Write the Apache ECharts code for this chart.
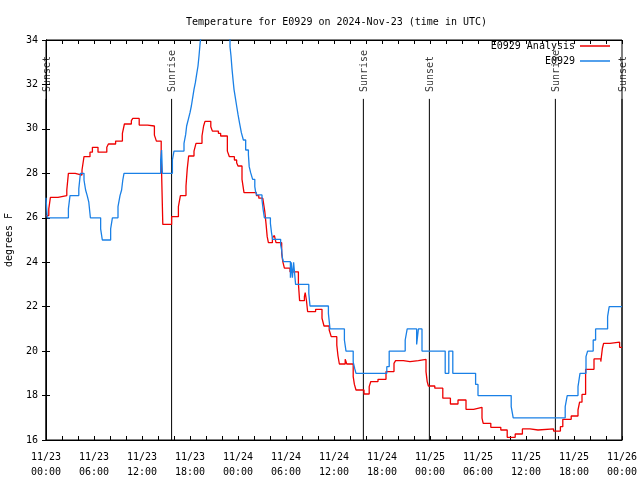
<!DOCTYPE html>
<html>
<head>
<meta charset="utf-8">
<script src="https://cdn.jsdelivr.net/npm/echarts@6/dist/echarts.min.js"></script>
<style>html,body{margin:0;padding:0;background:#fff;}#chart{width:640px;height:480px;}</style>
</head>
<body>
<div id="chart"></div>
<script>
// ---- data (x = hours since 2024-11-23 00:00 UTC) ----
const titleText = 'Temperature for E0929 on 2024-Nov-23 (time in UTC)';
const xTickLabels = ['11/23\n00:00','11/23\n06:00','11/23\n12:00','11/23\n18:00','11/24\n00:00','11/24\n06:00','11/24\n12:00','11/24\n18:00','11/25\n00:00','11/25\n06:00','11/25\n12:00','11/25\n18:00','11/26\n00:00'];
const yTickLabels = ['16','18','20','22','24','26','28','30','32','34'];
const analysisHours = [0,0.35,0.55,1.5,2.6,2.8,3.65,4.5,4.75,5.5,5.8,6.5,7.6,7.8,8.7,9.55,9.8,10.67,10.85,11.65,12.7,13.55,13.8,14.4,14.6,15.7,16.55,16.8,17.5,17.65,17.83,18.5,18.75,19.5,19.7,19.875,20.6,20.8,21.55,21.83,22.67,22.92,23.55,23.83,24.0,24.5,24.75,26.3,26.6,27.1,27.35,27.5,27.65,27.8,28.3,28.55,28.75,29.46,29.6,29.8,30.5,31.55,31.7,32.3,32.4,32.55,32.7,33.7,34.5,34.75,35.4,35.65,36.35,36.5,36.67,37.4,37.6,38.4,38.55,38.75,39.75,40.4,40.6,41.5,42.5,43.5,43.7,44.67,45.5,46.55,47.5,47.65,47.8,48.6,49.6,50.55,51.5,52.5,53.45,54.5,54.65,55.6,56.85,57.65,58.65,59.55,60.5,61.5,63.45,64.3,64.6,65.65,66.5,66.7,67.0,67.45,68.5,69.35,69.55,69.7,70.5,71.7,72];
const analysisTemps = [26.1,26.4,26.92,27.0,27.25,28.0,27.92,28.15,28.75,28.95,29.17,28.95,29.17,29.32,29.45,29.8,30.22,30.37,30.47,30.17,30.13,29.72,29.45,28.8,25.7,26.05,26.5,27.0,27.43,28.18,28.78,29.0,29.35,29.68,30.13,30.34,30.1,29.9,29.8,29.68,29.0,28.75,28.6,28.48,28.33,27.73,27.13,27.0,26.88,26.8,26.28,25.75,25.15,24.88,25.1,25.2,24.88,24.4,24.03,23.73,23.57,23.05,22.27,22.45,22.63,22.3,21.78,21.88,21.48,21.13,20.95,20.65,20.27,19.78,19.42,19.63,19.42,18.85,18.5,18.25,18.07,18.4,18.63,18.73,19.08,19.45,19.57,19.53,19.57,19.63,19.08,18.63,18.43,18.33,17.88,17.62,17.8,17.38,17.47,16.98,16.75,16.57,16.45,16.12,16.27,16.5,16.45,16.5,16.4,16.6,16.93,17.08,17.35,17.7,18.05,19.18,19.65,19.53,20.13,20.35,20.4,20.17,20.17];
const obsHours = [0,0.16,2.8,3.0,4.1,4.3,4.75,4.95,5.15,5.35,5.55,6.83,7.04,8.08,8.3,9.0,9.25,9.45,9.6,9.75,14.33,14.45,14.55,15.8,16.0,17.25,17.46,17.58,17.79,18.0,18.17,18.33,18.5,18.67,18.83,19.0,19.125,19.25,19.4,19.6,19.8,20.1,20.5,21.0,21.5,22.0,22.4,22.7,23.0,23.125,23.25,23.375,23.5,23.67,23.83,24.0,24.2,24.42,24.67,24.96,25.3,25.4,25.58,25.83,26.1,26.2,26.33,27.0,27.15,27.3,28.05,28.2,28.33,29.33,29.46,29.54,29.67,30.55,30.65,30.8,30.95,31.2,32.85,33.0,35.3,35.5,37.3,37.5,38.4,38.6,38.75,42.6,42.9,44.9,45.15,46.33,46.55,47.0,49.9,50.35,50.85,53.7,54.0,58.15,58.4,64.9,65.15,66.5,66.75,67.5,67.7,68.4,68.7,70.2,70.4,72];
const obsTemps = [26.9,26,26.4,27,27.3,28,27.7,27.25,27.0,26.7,26,25.5,25,25.5,26,26.5,27,27.25,27.7,28,28.6,29.05,28,28.6,29,29.35,29.75,30.13,30.43,30.73,31.03,31.4,31.78,32.08,32.45,32.83,33.28,33.8,34.3,34.6,34.9,35.1,35.3,35.4,35.2,34.9,34.6,34.3,33.7,33.28,32.7,32.23,31.78,31.4,31.03,30.65,30.25,29.83,29.5,29.05,28.85,28.3,28.03,27.73,27.4,27.17,27.03,26.8,26.35,26.0,25.75,25.3,25.03,24.78,24.55,24.22,24.03,23.3,24.0,23.3,24.0,23.0,22.6,22.03,21.7,21.0,20.5,20.0,19.5,19.2,19.0,19.3,20.0,20.5,21.0,20.3,21.0,20.0,19.0,20.0,19.0,18.5,18.0,17.5,17.0,17.5,18.0,18.4,19.0,19.75,20.0,20.5,21.0,21.55,22.0,22.0];
const eventNames = ['Sunset','Sunrise','Sunrise','Sunset','Sunrise','Sunset'];
const eventHours = [0, 15.7, 39.67, 47.92, 63.67, 72];

// ---- chart ----
const FONT = 'DejaVu Sans Mono';
const chart = echarts.init(document.getElementById('chart'), null, {renderer: 'canvas'});
const zip = (a, b) => a.map((v, i) => [v, b[i]]);
const EVENT_TOP = 31.35, LABEL_Y = 31.66;

const eventLineSeries = eventHours.map((h, i) => ({
  type: 'line', name: 'ev' + i, data: [[h, EVENT_TOP], [h, 16]],
  showSymbol: false, symbol: 'none', silent: true, clip: false,
  lineStyle: {color: '#000', width: 1}, z: 1, animation: false
}));

const axisCommon = {
  axisLine: {show: true, lineStyle: {color: '#000', width: 1}},
  splitLine: {show: false},
  axisTick: {show: true, inside: true, length: 4, lineStyle: {color: '#000'}}
};

chart.setOption({
  animation: false,
  backgroundColor: '#fff',
  textStyle: {fontFamily: FONT, color: '#000'},
  title: {text: titleText, left: 181, top: 12,
    textStyle: {fontFamily: FONT, fontSize: 10, fontWeight: 'normal', color: '#000'}},
  legend: [
    {data: ['E0929 Analysis'], right: 30, top: 41, orient: 'vertical', align: 'right', icon: 'rect',
     itemWidth: 30, itemHeight: 1.5, itemGap: 2, padding: 0,
     textStyle: {fontFamily: FONT, fontSize: 10, color: '#000'}},
    {data: ['E0929'], right: 30, top: 56, orient: 'vertical', align: 'right', icon: 'rect',
     itemWidth: 30, itemHeight: 1.5, itemGap: 2, padding: 0,
     textStyle: {fontFamily: FONT, fontSize: 10, color: '#000'}}
  ],
  grid: {left: 46, right: 18, top: 40, bottom: 40, show: true, borderColor: '#000', borderWidth: 1,
    containLabel: false, outerBoundsMode: 'none'},
  xAxis: [
    Object.assign({}, axisCommon, {
      type: 'value', min: 0, max: 72, interval: 6, position: 'bottom',
      minorTick: {show: true, splitNumber: 3, length: 4, lineStyle: {color: '#000'}},
      axisLabel: {show: true, margin: 10, fontFamily: FONT, fontSize: 10, color: '#000', lineHeight: 15,
        formatter: v => xTickLabels[Math.round(v / 6)]}
    }),
    Object.assign({}, axisCommon, {
      type: 'value', min: 0, max: 72, interval: 6, position: 'top',
      minorTick: {show: true, splitNumber: 3, length: 4, lineStyle: {color: '#000'}},
      axisLabel: {show: false}
    })
  ],
  yAxis: [
    Object.assign({}, axisCommon, {
      type: 'value', min: 16, max: 34, interval: 2, position: 'left',
      name: 'degrees F', nameLocation: 'middle', nameGap: 32, nameRotate: 90,
      nameTextStyle: {fontFamily: FONT, fontSize: 10, color: '#000'},
      axisLabel: {show: true, margin: 8, fontFamily: FONT, fontSize: 10, color: '#000',
        formatter: v => yTickLabels[Math.round((v - 16) / 2)]}
    }),
    Object.assign({}, axisCommon, {
      type: 'value', min: 16, max: 34, interval: 2, position: 'right',
      axisLabel: {show: false}
    })
  ],
  series: [
    {type: 'line', name: 'E0929 Analysis', step: 'end', data: zip(analysisHours, analysisTemps),
     showSymbol: false, symbol: 'none', color: '#ee0000', lineStyle: {width: 1.3, color: '#ee0000'}, clip: true, z: 3},
    {type: 'line', name: 'E0929', step: 'end', data: zip(obsHours, obsTemps),
     showSymbol: false, symbol: 'none', color: '#1a80e6', lineStyle: {width: 1.3, color: '#1a80e6'}, clip: true, z: 4},
    ...eventLineSeries,
    {type: 'scatter', name: 'events', silent: true, symbolSize: 0, clip: false, z: 5,
     data: eventHours.map((h, i) => [h, LABEL_Y, eventNames[i]]),
     label: {show: true, formatter: p => p.value[2], rotate: 90, position: 'inside', offset: [0, 1],
       align: 'left', verticalAlign: 'middle', fontFamily: FONT, fontSize: 10, color: '#000'}}
  ]
});
</script>
</body>
</html>
